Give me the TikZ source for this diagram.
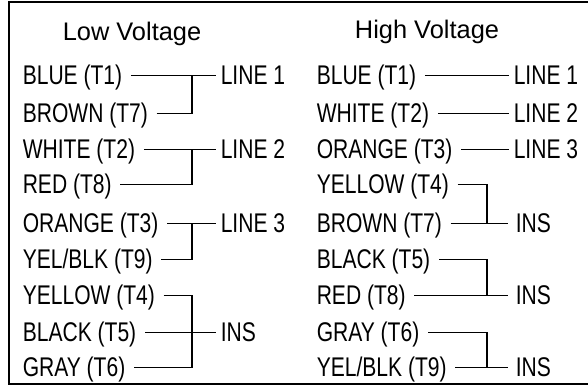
\documentclass[tikz,border=0pt]{standalone}
\usepackage{fontspec}
\setmainfont{Liberation Sans}
\newfontfamily\wirefont[FakeStretch=0.78]{Liberation Sans}

\begin{document}
\begin{tikzpicture}[x=1pt,y=-1pt,line width=1.5pt,
  wire node/.style={font=\wirefont\fontsize{27}{30}\selectfont,
  anchor=base west,inner xsep=8pt,inner ysep=0pt},
  end node/.style={wire node,inner xsep=4pt},
  ins node/.style={wire node,inner xsep=7pt},
  title node/.style={font=\fontsize{25.4}{30}\selectfont,anchor=base},
  tap/.style={yshift=8.5pt}]

  \useasboundingbox (0,0) rectangle (588,386);
  \draw[line width=2.2pt] (588,2) -- (9,2) -- (9,384) -- (588,384);

  \node[title node] (lowv) at (132,40) {Low Voltage};
  \node[title node] (highv) at (427,38) {High Voltage};

  % low voltage side
  \node[wire node] (lblue) at (14,84) {BLUE (T1)};
  \node[wire node] (lbrown) at (14,122) {BROWN (T7)};
  \node[wire node] (lwhite) at (14,158) {WHITE (T2)};
  \node[wire node] (lred) at (14,193) {RED (T8)};
  \node[wire node] (lorange) at (14,232) {ORANGE (T3)};
  \node[wire node] (lyelblk) at (14,268) {YEL/BLK (T9)};
  \node[wire node] (lyellow) at (14,304) {YELLOW (T4)};
  \node[wire node] (lblack) at (14,341) {BLACK (T5)};
  \node[wire node] (lgray) at (14,376) {GRAY (T6)};

  \node[end node] (lline1) at (216,84) {LINE 1};
  \node[end node] (lline2) at (216,158) {LINE 2};
  \node[end node] (lline3) at (216,232) {LINE 3};
  \node[end node] (lins) at (216,341) {INS};
  \coordinate (lbus) at (192,0);

  % high voltage side
  \node[wire node] (rblue) at (308,84) {BLUE (T1)};
  \node[wire node] (rwhite) at (308,122) {WHITE (T2)};
  \node[wire node] (rorange) at (308,158) {ORANGE (T3)};
  \node[wire node] (ryellow) at (308,193) {YELLOW (T4)};
  \node[wire node] (rbrown) at (308,232) {BROWN (T7)};
  \node[wire node] (rblack) at (308,268) {BLACK (T5)};
  \node[wire node] (rred) at (308,304) {RED (T8)};
  \node[wire node] (rgray) at (308,341) {GRAY (T6)};
  \node[wire node] (ryelblk) at (308,376) {YEL/BLK (T9)};

  \node[end node] (rline1) at (509,84) {LINE 1};
  \node[end node] (rline2) at (509,122) {LINE 2};
  \node[end node] (rline3) at (509,158) {LINE 3};
  \node[ins node] (rins1) at (508,232) {INS};
  \node[ins node] (rins2) at (508,304) {INS};
  \node[ins node] (rins3) at (508,376) {INS};
  \coordinate (rbus) at (487,0);

  \draw ([tap]lblue.base east) -- ([tap]lline1.base west);
  \draw ([tap]lbrown.base east) -| ([tap]lbus |- lblue.base east);
  \draw ([tap]lwhite.base east) -- ([tap]lline2.base west);
  \draw ([tap]lred.base east) -| ([tap]lbus |- lwhite.base east);
  \draw ([tap]lorange.base east) -- ([tap]lline3.base west);
  \draw ([tap]lyelblk.base east) -| ([tap]lbus |- lorange.base east);
  \draw ([tap]lblack.base east) -- ([tap]lins.base west);
  \draw ([tap]lyellow.base east) -| ([tap]lbus |- lgray.base east)
    -- ([tap]lgray.base east);

  \draw ([tap]rblue.base east) -- ([tap]rline1.base west);
  \draw ([tap]rwhite.base east) -- ([tap]rline2.base west);
  \draw ([tap]rorange.base east) -- ([tap]rline3.base west);
  \draw ([tap]rbrown.base east) -- ([tap]rins1.base west);
  \draw ([tap]ryellow.base east) -| ([tap]rbus |- rbrown.base east);
  \draw ([tap]rred.base east) -- ([tap]rins2.base west);
  \draw ([tap]rblack.base east) -| ([tap]rbus |- rred.base east);
  \draw ([tap]ryelblk.base east) -- ([tap]rins3.base west);
  \draw ([tap]rgray.base east) -| ([tap]rbus |- ryelblk.base east);
\end{tikzpicture}
\end{document}
